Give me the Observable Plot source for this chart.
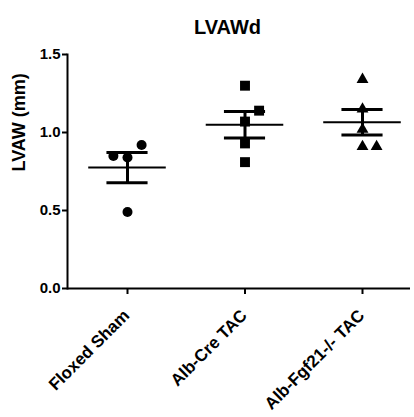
<!DOCTYPE html>
<html>
<head>
<meta charset="utf-8">
<script src="https://cdn.jsdelivr.net/npm/d3@7"></script>
<script src="https://cdn.jsdelivr.net/npm/@observablehq/plot@0.6"></script>
<style>
  html, body { margin: 0; padding: 0; background: #fff; }
  #chart svg { display: block; }
</style>
</head>
<body>
<div id="chart"></div>
<script>
// LVAWd per group (mm), one value per animal
const categories = ["Floxed Sham", "Alb-Cre TAC", "Alb-Fgf21-/- TAC"];
const floxedSham = [0.92, 0.85, 0.84, 0.49];
const albCreTac = [1.30, 1.14, 1.07, 0.93, 0.81];
const albFgf21Tac = [1.34, 1.15, 1.02, 0.91, 0.91];
const yTicks = [0, 0.5, 1.0, 1.5];
const titleText = "LVAWd";
const yLabel = "LVAW (mm)";

const groups = [floxedSham, albCreTac, albFgf21Tac];
const symbols = ["circle", "square", "triangle"];
const symbolR = [5, 5.6, 4.4];
const font = "'Liberation Sans', Arial, Helvetica, sans-serif";

// Spread points whose values nearly coincide sideways, scatter-plot style:
// the lowest point of a cluster stays on the centre line, the rest alternate right/left.
const clusterGap = 0.083;  // value units
const step = 0.12;         // category units
const points = [];
groups.forEach((vals, i) => {
  const sorted = vals.slice().sort((a, b) => b - a);
  const rows = [];
  sorted.forEach(v => {
    const row = rows[rows.length - 1];
    if (row && row[row.length - 1] - v < clusterGap) row.push(v);
    else rows.push([v]);
  });
  rows.forEach(row => {
    const lowest = row[row.length - 1];
    points.push({g: i, x: i, value: lowest});
    row.slice(0, -1).forEach((v, k) => {
      const side = k % 2 === 0 ? 1 : -1;
      const lvl = Math.floor(k / 2) + 1;
      points.push({g: i, x: i + side * lvl * step, value: v});
    });
  });
});

// Mean ± SEM for each group
const stats = groups.map((vals, i) => {
  const mean = d3.mean(vals);
  const sem = d3.deviation(vals) / Math.sqrt(vals.length);
  return {i, mean, lo: mean - sem, hi: mean + sem};
});

const meanHalf = 0.33, capHalf = 0.175;

const chart = Plot.plot({
  width: 414,
  height: 417,
  marginLeft: 67,
  marginRight: 4,
  marginTop: 54,
  marginBottom: 129,
  style: {fontFamily: font, color: "#000", background: "#fff"},
  x: {type: "linear", domain: [0, 2], range: [127, 362], axis: null},
  y: {domain: [0, 1.5], axis: null},
  marks: [
    // axis lines
    Plot.frame({anchor: "left", stroke: "#000", strokeWidth: 2}),
    Plot.ruleY([0], {stroke: "#000", strokeWidth: 2}),
    // y axis ticks and labels
    Plot.axisY({
      ticks: yTicks, tickFormat: d3.format(".1f"), tickSize: 5, tickPadding: 2,
      strokeWidth: 2, fontSize: 15, fontWeight: "bold", label: null
    }),
    // x axis ticks
    Plot.axisX({
      ticks: [0, 1, 2], tickFormat: () => "", tickSize: 6, strokeWidth: 2, label: null
    }),
    // rotated category labels
    Plot.text([0, 1, 2], {
      x: d => d, frameAnchor: "bottom", text: d => categories[d],
      rotate: -45, textAnchor: "end", dx: 3, dy: 28,
      fontSize: 17, fontWeight: "bold", fill: "#000"
    }),
    // y axis title
    Plot.text([yLabel], {
      frameAnchor: "left", dx: -48, rotate: -90,
      fontSize: 18, fontWeight: "bold", fill: "#000"
    }),
    // chart title
    Plot.text([titleText], {
      frameAnchor: "top-left", dx: 160, dy: -35, textAnchor: "middle",
      fontSize: 20, fontWeight: "bold", fill: "#000"
    }),
    // individual animals, one symbol per group
    ...symbols.map((s, i) =>
      Plot.dot(points.filter(p => p.g === i), {x: "x", y: "value", symbol: s, fill: "#000", r: symbolR[i]})
    ),
    // mean line
    Plot.ruleY(stats, {y: "mean", x1: d => d.i - meanHalf, x2: d => d.i + meanHalf, strokeWidth: 2}),
    // SEM whiskers and caps
    Plot.ruleX(stats, {x: "i", y1: "lo", y2: "hi", strokeWidth: 3}),
    Plot.ruleY(stats, {y: "hi", x1: d => d.i - capHalf, x2: d => d.i + capHalf, strokeWidth: 3}),
    Plot.ruleY(stats, {y: "lo", x1: d => d.i - capHalf, x2: d => d.i + capHalf, strokeWidth: 3})
  ]
});

document.getElementById("chart").appendChild(chart);
</script>
</body>
</html>
